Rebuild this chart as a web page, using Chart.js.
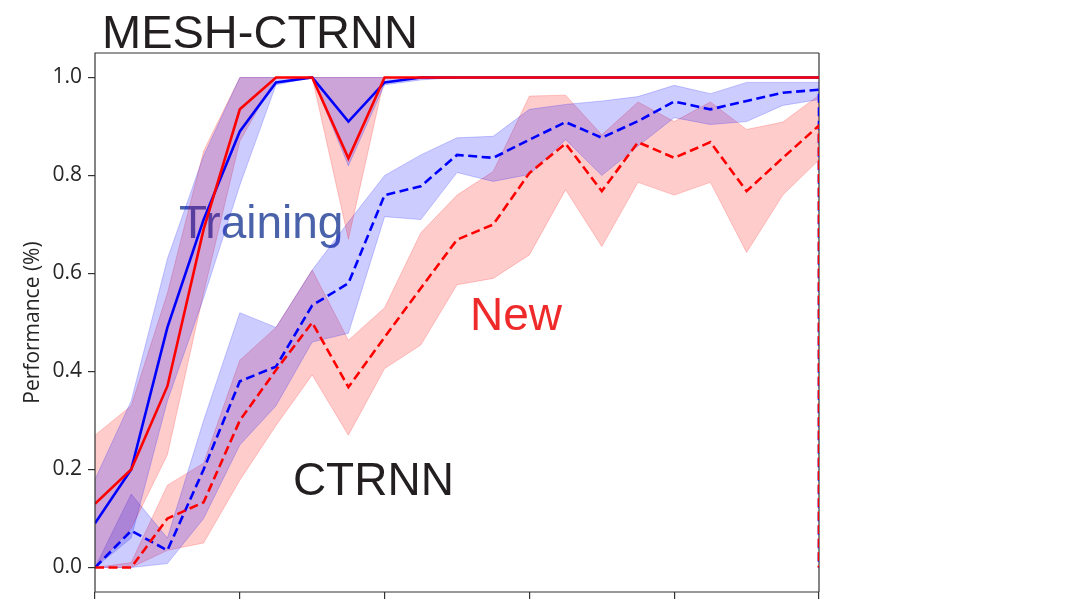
<!DOCTYPE html>
<html>
<head>
<meta charset="utf-8">
<script src="https://cdn.jsdelivr.net/npm/chart.js@4/dist/chart.umd.min.js"></script>
<style>
  html, body { margin: 0; padding: 0; background: #fff; }
  #wrap { width: 1069px; height: 613px; }
</style>
</head>
<body>
<div id="wrap"><canvas id="perf-chart" width="1069" height="613"></canvas></div>
<script>
// epochs on the x axis
var epochs = [0, 1, 2, 3, 4, 5, 6, 7, 8, 9, 10, 11, 12, 13, 14, 15, 16, 17, 18, 19, 20];

// MESH-CTRNN, training tasks (solid blue)
var meshTrain      = [0.09, 0.20, 0.49, 0.71, 0.89, 0.99, 1.00, 0.91, 0.99, 1.00, 1.00, 1.00, 1.00, 1.00, 1.00, 1.00, 1.00, 1.00, 1.00, 1.00, 1.00];
var meshTrainLow   = [0.00, 0.06, 0.34, 0.55, 0.78, 0.985, 1.00, 0.82, 0.985, 0.995, 1.00, 1.00, 1.00, 1.00, 1.00, 1.00, 1.00, 1.00, 1.00, 1.00, 1.00];
var meshTrainHigh  = [0.18, 0.34, 0.63, 0.84, 1.00, 1.00, 1.00, 1.00, 1.00, 1.00, 1.00, 1.00, 1.00, 1.00, 1.00, 1.00, 1.00, 1.00, 1.00, 1.00, 1.00];

// MESH-CTRNN, new tasks (solid red)
var meshNew        = [0.13, 0.20, 0.37, 0.69, 0.935, 1.00, 1.00, 0.835, 1.00, 1.00, 1.00, 1.00, 1.00, 1.00, 1.00, 1.00, 1.00, 1.00, 1.00, 1.00, 1.00];
var meshNewLow     = [0.00, 0.08, 0.23, 0.56, 0.87, 1.00, 1.00, 0.67, 1.00, 1.00, 1.00, 1.00, 1.00, 1.00, 1.00, 1.00, 1.00, 1.00, 1.00, 1.00, 1.00];
var meshNewHigh    = [0.27, 0.33, 0.56, 0.85, 1.00, 1.00, 1.00, 1.00, 1.00, 1.00, 1.00, 1.00, 1.00, 1.00, 1.00, 1.00, 1.00, 1.00, 1.00, 1.00, 1.00];

// CTRNN, training tasks (dashed blue), last point drops back to 0
var ctrnnTrain     = [0.00, 0.075, 0.035, 0.20, 0.38, 0.41, 0.535, 0.58, 0.76, 0.778, 0.842, 0.836, 0.873, 0.909, 0.877, 0.911, 0.951, 0.935, 0.952, 0.969, 0.975];
var ctrnnTrainLow  = [0.00, 0.00, 0.008, 0.10, 0.25, 0.33, 0.46, 0.478, 0.716, 0.71, 0.806, 0.788, 0.802, 0.873, 0.80, 0.86, 0.918, 0.904, 0.91, 0.943, 0.955];
var ctrnnTrainHigh = [0.00, 0.15, 0.06, 0.30, 0.52, 0.49, 0.607, 0.705, 0.80, 0.842, 0.877, 0.88, 0.935, 0.945, 0.952, 0.961, 0.984, 0.967, 0.99, 0.99, 0.99];

// CTRNN, new tasks (dashed red)
var ctrnnNew       = [0.00, 0.00, 0.10, 0.133, 0.30, 0.403, 0.50, 0.368, 0.47, 0.57, 0.669, 0.70, 0.805, 0.865, 0.768, 0.868, 0.836, 0.868, 0.768, 0.836, 0.902];
var ctrnnNewLow    = [0.00, 0.00, 0.035, 0.05, 0.178, 0.29, 0.393, 0.27, 0.406, 0.454, 0.577, 0.59, 0.638, 0.771, 0.655, 0.786, 0.76, 0.786, 0.643, 0.76, 0.832];
var ctrnnNewHigh   = [0.00, 0.01, 0.168, 0.213, 0.423, 0.49, 0.607, 0.464, 0.53, 0.683, 0.76, 0.808, 0.962, 0.964, 0.883, 0.95, 0.91, 0.95, 0.894, 0.909, 0.964];

// axis ticks
var xTicks = [0, 4, 8, 12, 16, 20];
var yTicks = [0.0, 0.2, 0.4, 0.6, 0.8, 1.0];

// text labels, in data units
var labels = [
    { text: 'Training', x: 4.59, y: 0.673, color: '#4a62aa' },
    { text: 'New',      x: 11.63, y: 0.485, color: '#ee2a2a' },
    { text: 'CTRNN',    x: 7.69, y: 0.147, color: '#231f20' }
];

function pts( ys, dropToZero ) {
    var out = ys.map( function( v, i ) { return { x: epochs[i], y: v }; } );
    if ( dropToZero ) {
        out.push( { x: epochs[epochs.length - 1], y: 0 } );
    }
    return out;
}

var BLUE = '#0000ff';
var RED = '#ff0000';
var BLUE_FILL = 'rgba(0,0,255,0.2)';
var RED_FILL = 'rgba(255,0,0,0.2)';

function band( low, high, fillColor ) {
    return [
        { data: pts( low ), borderColor: fillColor, borderWidth: 1, pointRadius: 0, fill: false, order: 2 },
        { data: pts( high ), borderColor: fillColor, borderWidth: 1, pointRadius: 0, fill: '-1', backgroundColor: fillColor, order: 2 }
    ];
}

function line( ys, color, dashed ) {
    return {
        data: pts( ys, dashed ),
        borderColor: color,
        borderWidth: 2.6,
        borderDash: dashed ? [9, 4.5] : [],
        pointRadius: 0,
        fill: false,
        order: 0
    };
}

// first line in the list ends up on top
var datasets = []
    .concat( band( meshTrainLow, meshTrainHigh, BLUE_FILL ) )
    .concat( band( meshNewLow, meshNewHigh, RED_FILL ) )
    .concat( band( ctrnnTrainLow, ctrnnTrainHigh, BLUE_FILL ) )
    .concat( band( ctrnnNewLow, ctrnnNewHigh, RED_FILL ) )
    .concat( [
        line( meshNew, RED, false ),
        line( meshTrain, BLUE, false ),
        line( ctrnnNew, RED, true ),
        line( ctrnnTrain, BLUE, true )
    ] );

// frame, title and text labels
var decorations = {
    id: 'decorations',
    beforeDatasetsDraw: function( chart ) {
        var ctx = chart.ctx;
        var xs = chart.scales.x, ys = chart.scales.y;
        var a = chart.chartArea;
        ctx.save();
        ctx.font = '46px "Liberation Sans", Arial, sans-serif';
        ctx.textAlign = 'center';
        ctx.textBaseline = 'alphabetic';
        labels.forEach( function( l ) {
            ctx.fillStyle = l.color;
            ctx.fillText( l.text, xs.getPixelForValue( l.x ), ys.getPixelForValue( l.y ) );
        } );
        // right spine, under the dashed end drop
        ctx.strokeStyle = '#333333';
        ctx.lineWidth = 1.2;
        ctx.beginPath();
        ctx.moveTo( a.right, a.top );
        ctx.lineTo( a.right, a.bottom );
        ctx.stroke();
        ctx.restore();
    },
    afterDraw: function( chart ) {
        var ctx = chart.ctx;
        var a = chart.chartArea;
        ctx.save();
        ctx.strokeStyle = '#333333';
        ctx.lineWidth = 1.2;
        ctx.beginPath();
        ctx.moveTo( a.left, a.bottom );
        ctx.lineTo( a.left, a.top );
        ctx.lineTo( a.right, a.top );
        ctx.moveTo( a.left, a.bottom );
        ctx.lineTo( a.right, a.bottom );
        ctx.stroke();
        ctx.fillStyle = '#231f20';
        ctx.font = '47px "Liberation Sans", Arial, sans-serif';
        ctx.textAlign = 'left';
        ctx.textBaseline = 'alphabetic';
        ctx.fillText( 'MESH-CTRNN', 102, 48 );
        ctx.restore();
    }
};

var canvas = document.getElementById( 'perf-chart' );

var chart = new Chart( canvas, {
    type: 'line',
    data: { datasets: datasets },
    plugins: [ decorations ],
    options: {
        responsive: false,
        animation: false,
        events: [],
        layout: {
            padding: { left: 0, right: 250, top: 53, bottom: 0 }
        },
        plugins: {
            legend: { display: false },
            tooltip: { enabled: false },
            title: { display: false }
        },
        scales: {
            x: {
                type: 'linear',
                min: 0,
                max: 20,
                afterBuildTicks: function( scale ) {
                    scale.ticks = xTicks.map( function( v ) { return { value: v }; } );
                },
                afterFit: function( scale ) { scale.height = 21; },
                grid: { drawOnChartArea: false, drawTicks: true, tickLength: 7, color: '#333333', lineWidth: 1.2 },
                border: { display: false },
                ticks: { display: false }
            },
            y: {
                type: 'linear',
                min: -0.05,
                max: 1.05,
                afterBuildTicks: function( scale ) {
                    scale.ticks = yTicks.map( function( v ) { return { value: v }; } );
                },
                afterFit: function( scale ) { scale.width = 95; },
                grid: { drawOnChartArea: false, drawTicks: true, tickLength: 7, color: '#333333', lineWidth: 1.2 },
                border: { display: false },
                title: {
                    display: true,
                    text: 'Performance (%)',
                    color: '#262626',
                    font: { family: '"Open Sans", "Noto Sans", sans-serif', size: 21 },
                    padding: { top: 20, bottom: 4 }
                },
                ticks: {
                    color: '#262626',
                    font: { family: '"Open Sans", "Noto Sans", sans-serif', size: 21 },
                    padding: 6,
                    callback: function( v ) { return Number( v ).toFixed( 1 ); }
                }
            }
        }
    }
} );

chart.update();
</script>
</body>
</html>
